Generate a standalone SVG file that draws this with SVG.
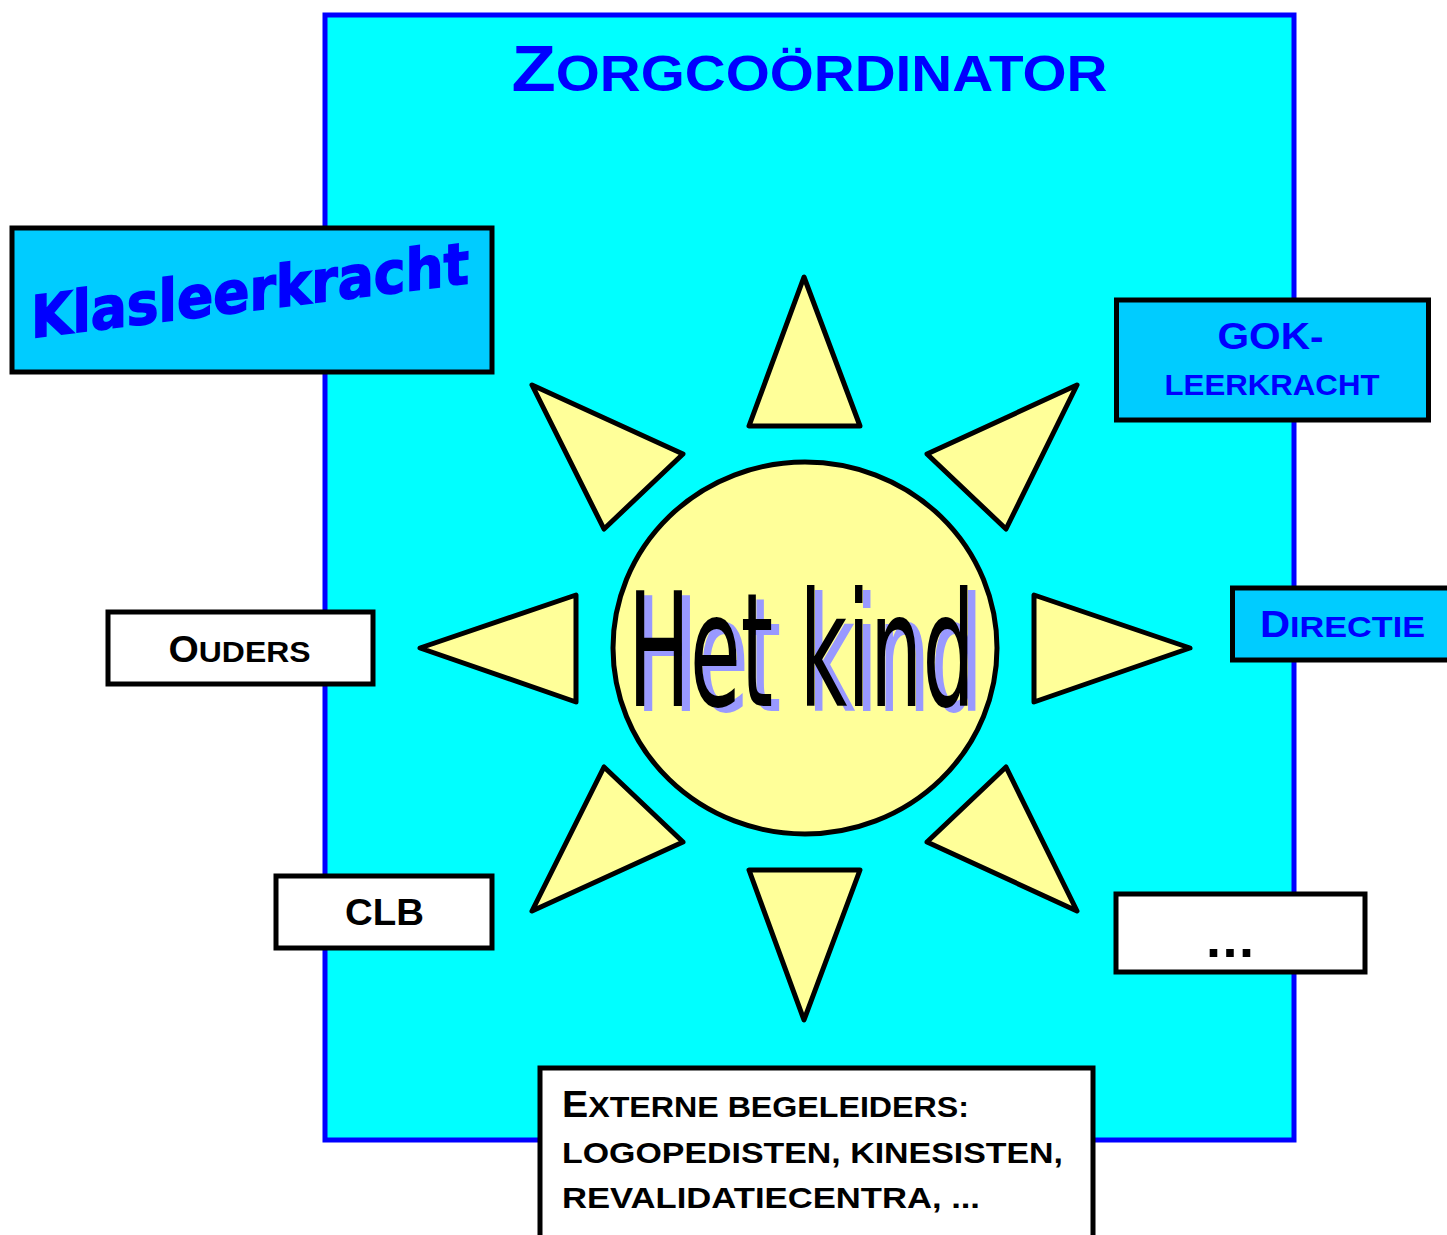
<svg xmlns="http://www.w3.org/2000/svg" width="1447" height="1235" viewBox="0 0 1447 1235">
<style>
text{font-family:"Liberation Sans",Arial,sans-serif;font-weight:700}
.box{stroke:#000;stroke-width:5;stroke-linejoin:miter}
.sky{fill:#00CCFF}.wh{fill:#fff}
.ray{fill:#FFFF99;stroke:#000;stroke-width:5;stroke-linejoin:round}
.bl{fill:#0000FF}.bk{fill:#000}
.s{font-size:29.5px}.b{font-size:36px}
.kind{font-family:"DejaVu Sans",sans-serif;font-size:159px;font-weight:400}
</style>
<rect width="1447" height="1235" fill="#fff"/>
<g id="zorgcoordinator">
<rect x="325" y="15" width="969" height="1125" fill="#00FFFF" stroke="#0000FF" stroke-width="5"/>
<text class="bl" x="511.500" y="91" textLength="596" lengthAdjust="spacingAndGlyphs" style="font-size:50px"><tspan style="font-size:64px">Z</tspan>ORGCOÖRDINATOR</text>
</g>
<g id="sun">
<g id="rays">
<polygon class="ray" points="804,277 749,426 860,426"/>
<polygon class="ray" points="532,385 683,454 604,529"/>
<polygon class="ray" points="1077,385 927,454 1006,529"/>
<polygon class="ray" points="420,648 576,595 576,702"/>
<polygon class="ray" points="1190,648 1034,595 1034,702"/>
<polygon class="ray" points="532,911 683,842 604,767"/>
<polygon class="ray" points="1077,911 927,842 1006,767"/>
<polygon class="ray" points="804,1020 749,870 860,870"/>
</g>
<ellipse id="kind-circle" cx="805" cy="648" rx="192" ry="186" class="ray"/>
<g id="kind-label">
<text class="kind" transform="translate(636,711) scale(.519,1)" fill="#9999FF">Het kind</text>
<text class="kind" transform="translate(628,706) scale(.519,1)" fill="#000">Het kind</text>
</g>
</g>
<g id="klasleerkracht">
<rect class="box sky" x="12" y="228" width="480" height="144"/>
<text class="bl" transform="matrix(1,-0.125,0,1,31,338)" textLength="438" lengthAdjust="spacingAndGlyphs" stroke="#0000FF" stroke-width="1.6" style="font-family:'DejaVu Sans',sans-serif;font-size:58px">Klasleerkracht</text>
</g>
<g id="gok">
<rect class="box sky" x="1116.5" y="300" width="312" height="120"/>
<text class="bl b" x="1217.500" y="349" textLength="106" lengthAdjust="spacingAndGlyphs">GOK-</text>
<text class="bl s" x="1164.500" y="395" textLength="215" lengthAdjust="spacingAndGlyphs">LEERKRACHT</text>
</g>
<g id="directie">
<rect class="box sky" x="1232.5" y="588" width="230" height="72"/>
<text class="bl s" x="1260" y="637" textLength="165" lengthAdjust="spacingAndGlyphs"><tspan class="b">D</tspan>IRECTIE</text>
</g>
<g id="ouders">
<rect class="box wh" x="108" y="612" width="265" height="72"/>
<text class="bk s" x="168.500" y="662" textLength="142" lengthAdjust="spacingAndGlyphs"><tspan class="b">O</tspan>UDERS</text>
</g>
<g id="clb">
<rect class="box wh" x="276" y="876" width="216" height="72"/>
<text class="bk b" x="345" y="925" textLength="79" lengthAdjust="spacingAndGlyphs">CLB</text>
</g>
<g id="dots">
<rect class="box wh" x="1116" y="894" width="249" height="78"/>
<text class="bk" x="1206" y="957" letter-spacing="1.500" style="font-size:54px">...</text>
</g>
<g id="externe">
<rect class="box wh" x="540" y="1068" width="553" height="180"/>
<text class="bk s" x="562" y="1117" textLength="407" lengthAdjust="spacingAndGlyphs"><tspan class="b">E</tspan>XTERNE BEGELEIDERS:</text>
<text class="bk s" x="562" y="1162.500" textLength="501" lengthAdjust="spacingAndGlyphs">LOGOPEDISTEN, KINESISTEN,</text>
<text class="bk s" x="562" y="1207.500" textLength="418" lengthAdjust="spacingAndGlyphs">REVALIDATIECENTRA, ...</text>
</g>
</svg>
